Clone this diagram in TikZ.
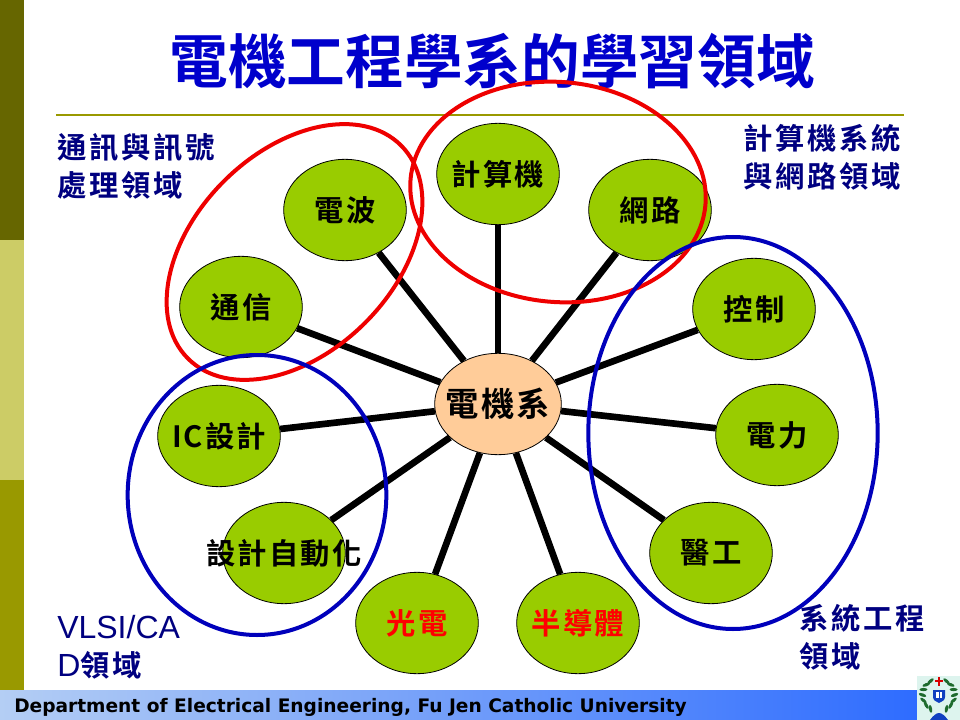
\documentclass[tikz,border=0pt]{standalone}
\usepackage{fontspec}
\usetikzlibrary{shapes.geometric}
\setmainfont{Liberation Sans}
\newfontfamily\cjktitle{Noto Sans CJK TC}[BoldFont={Noto Sans CJK TC Bold}]
\newfontfamily\cjk{Noto Sans CJK TC}[BoldFont={Noto Sans CJK TC Bold},LetterSpace=7]
\newfontfamily\cjkarea{Noto Sans CJK TC}[BoldFont={Noto Sans CJK TC Bold},LetterSpace=9]
\newfontfamily\footfont{DejaVu Sans}
\newcommand{\lbl}[1]{\makebox[0pt]{#1}}
\definecolor{olivedk}{HTML}{666600}
\definecolor{olivelt}{HTML}{CCCC66}
\definecolor{olivemd}{HTML}{999900}
\definecolor{leaf}{HTML}{99CC00}
\definecolor{peach}{HTML}{FFCC99}
\definecolor{titleblue}{HTML}{0000CC}
\definecolor{navyt}{HTML}{000080}
\definecolor{ringred}{HTML}{EE0000}
\definecolor{ringblue}{HTML}{0000BB}
\definecolor{footl}{HTML}{B4CEF4}
\definecolor{footr}{HTML}{2E6CFF}
\definecolor{crestbg}{HTML}{DDF4EE}
\definecolor{crestgreen}{HTML}{1E6B2E}
\definecolor{crestblue}{HTML}{1040C0}
\tikzset{
  topic/.style={ellipse,draw=black,line width=0.6pt,fill=leaf,minimum width=92pt,minimum height=76pt,inner sep=0pt,font=\cjk\bfseries\fontsize{22}{24}\selectfont},
  hub/.style={topic,fill=peach,minimum width=95pt,font=\cjk\bfseries\fontsize{25}{27}\selectfont},
  spoke/.style={line width=5pt,black},
  ring/.style={ellipse,line width=3pt,inner sep=0pt,fill=none},
  area/.style={align=left,anchor=north west,inner sep=0pt,text=navyt,font=\cjkarea\bfseries\fontsize{22}{28.5}\selectfont},
  crestleaf/.style={crestgreen,line width=0pt},
}
\begin{document}
\begin{tikzpicture}[x=0.75pt,y=-0.75pt]
\useasboundingbox (0,0) rectangle (960,720);
\fill[white] (0,0) rectangle (960,720);
% side bars
\fill[olivedk] (0,0) rectangle (24,240);
\fill[olivelt] (0,240) rectangle (24,480);
\fill[olivemd] (0,480) rectangle (24,720);
% footer
\shade[left color=footl,right color=footr] (0,690) rectangle (917,720);
\node[anchor=west,inner sep=0pt,font=\footfont\bfseries\fontsize{13.95}{16}\selectfont] (foot) at (14,707) {Department of Electrical Engineering, Fu Jen Catholic University};
% title
\node[inner sep=0pt,text=titleblue,font=\cjktitle\bfseries\fontsize{44}{48}\selectfont] (title) at (492,61) {電機工程學系的學習領域};
\draw[olivemd,line width=2pt] (56,115) -- (904,115);
% nodes
\node[hub] (hubn) at (498,404) {\lbl{電機系}};
\node[topic] (n1) at (498,174) {\lbl{計算機}};
\node[topic] (n2) at (650,210) {\lbl{網路}};
\node[topic] (n3) at (754,309) {\lbl{控制}};
\node[topic] (n4) at (777,435) {\lbl{電力}};
\node[topic] (n5) at (711,553) {\lbl{醫工}};
\node[topic,text=red] (n6) at (578,623) {\lbl{半導體}};
\node[topic,text=red] (n7) at (417,623) {\lbl{光電}};
\node[topic] (n8) at (284,553) {\lbl{設計自動化}};
\node[topic] (n9) at (219,436) {\lbl{IC設計}};
\node[topic] (n10) at (241,307) {\lbl{通信}};
\node[topic] (n11) at (345,210) {\lbl{電波}};
\foreach \k in {1,...,11} \draw[spoke] (hubn) -- (n\k);
% rings
\node[ring,draw=ringred,minimum width=226pt,minimum height=150pt,rotate=45] (r1) at (294.5,252) {};
\node[ring,draw=ringred,minimum width=222pt,minimum height=165pt,rotate=-5] (r2) at (558,192) {};
\node[ring,draw=ringblue,minimum width=194pt,minimum height=210pt] (r3) at (257,495) {};
\node[ring,draw=ringblue,minimum width=217pt,minimum height=294pt] (r4) at (733,433) {};
% area labels
\node[area] (a1) at (57,133) {通訊與訊號\\處理領域};
\node[area,anchor=north east,align=right] (a2) at (901,124) {計算機系統\\與網路領域};
\node[area,font=\fontsize{24}{28.5}\selectfont] (a3) at (57,615) {VLSI/CA\\D{\cjkarea\bfseries\fontsize{22}{28.5}\selectfont 領域}};
\node[area] (a4) at (799,604) {系統工程\\領域};
% crest
\fill[crestbg] (917,676) rectangle (960,720);
\foreach \a in {-60,-40,...,60} {
  \fill[crestleaf,rotate around={\a+20:(938.5+16*cos \a,695+16*sin \a)}] (938.5+16*cos \a,695+16*sin \a) ellipse [x radius=3pt,y radius=1.2pt];
  \fill[crestleaf,rotate around={-\a-20:(938.5-16*cos \a,695+16*sin \a)}] (938.5-16*cos \a,695+16*sin \a) ellipse [x radius=3pt,y radius=1.2pt];
}
\fill[red!85!black] (938,677) rectangle (940,686);
\fill[red!85!black] (935,679.5) rectangle (943,681.5);
\fill[crestblue] (933,690) -- (945,690) -- (945,697) .. controls (945,700) and (942,702) .. (939,703) .. controls (936,702) and (933,700) .. (933,697) -- cycle;
\fill[white] (936,692) rectangle (942,698);
\fill[crestblue] (938.6,692) rectangle (939.4,698);
\fill[crestblue] (930,720) .. controls (933,716) and (936,713) .. (939,713) .. controls (942,713) and (945,716) .. (948,720) -- cycle;
\end{tikzpicture}
\end{document}
